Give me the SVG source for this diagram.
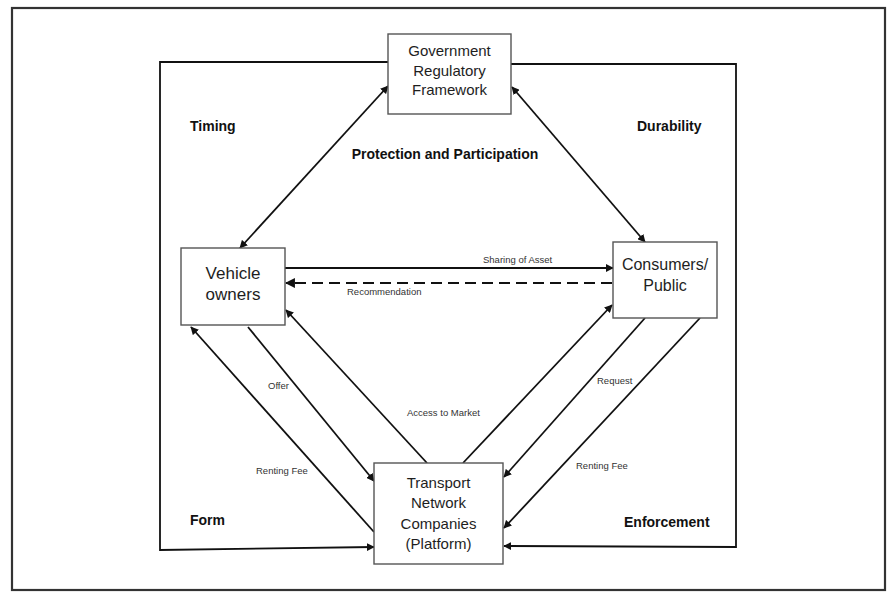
<svg xmlns="http://www.w3.org/2000/svg" width="889" height="592" viewBox="0 0 889 592">
<style>
.box{fill:#fff;stroke:#555;stroke-width:1.4}
.nt{font-family:"Liberation Sans",Arial,sans-serif;fill:#1e1e1e;text-anchor:middle}
.lbl{font-family:"Liberation Sans",Arial,sans-serif;font-size:9.5px;fill:#333}
.bl{font-family:"Liberation Sans",Arial,sans-serif;font-size:14px;font-weight:bold;fill:#111}
.ln{fill:none;stroke:#111;stroke-width:1.8}
.dash{stroke-dasharray:11 6;stroke-width:2.2}
</style>
<defs>
<marker id="ah" viewBox="0 0 10 10" refX="9" refY="5" markerWidth="4.5" markerHeight="4.5" orient="auto-start-reverse" markerUnits="strokeWidth">
<path d="M0,0 L10,5 L0,10 z" fill="#111"/>
</marker>
</defs>
<rect x="12" y="8" width="873" height="582" fill="#fff" stroke="#333" stroke-width="2.2"/>
<g id="connectors">
<path class="ln" d="M388,62 L160,62 L160,550 L374,547" marker-end="url(#ah)"/>
<path class="ln" d="M511,64 L736,64 L736,547 L504,546" marker-end="url(#ah)"/>
<line class="ln" x1="388" y1="86" x2="240" y2="248" marker-start="url(#ah)" marker-end="url(#ah)"/>
<line class="ln" x1="512" y1="87" x2="645" y2="242" marker-start="url(#ah)" marker-end="url(#ah)"/>
<line class="ln" x1="285" y1="268" x2="613" y2="268" marker-end="url(#ah)"/>
<line class="ln dash" x1="612" y1="283" x2="286" y2="283" marker-end="url(#ah)"/>
<line class="ln" x1="427" y1="463" x2="286" y2="310" marker-end="url(#ah)"/>
<line class="ln" x1="248" y1="327" x2="374" y2="481" marker-end="url(#ah)"/>
<line class="ln" x1="374" y1="532" x2="191" y2="327" marker-end="url(#ah)"/>
<line class="ln" x1="463" y1="463" x2="612" y2="305" marker-end="url(#ah)"/>
<line class="ln" x1="645" y1="318" x2="504" y2="477" marker-end="url(#ah)"/>
<line class="ln" x1="700" y1="318" x2="504" y2="528" marker-end="url(#ah)"/>
<text class="lbl" x="483" y="263">Sharing of Asset</text>
<text class="lbl" x="347" y="295">Recommendation</text>
<text class="lbl" x="268" y="389">Offer</text>
<text class="lbl" x="407" y="416">Access to Market</text>
<text class="lbl" x="256" y="474">Renting Fee</text>
<text class="lbl" x="597" y="384">Request</text>
<text class="lbl" x="576" y="469">Renting Fee</text>
</g>
<g id="gov">
<rect class="box" x="388" y="34" width="123" height="80"/>
<text class="nt" font-size="15" x="449.5" y="56">Government</text>
<text class="nt" font-size="15" x="449.5" y="76">Regulatory</text>
<text class="nt" font-size="15" x="449.5" y="95">Framework</text>
</g>
<g id="vehicle">
<rect class="box" x="181" y="248" width="104" height="77"/>
<text class="nt" font-size="17" x="233" y="279">Vehicle</text>
<text class="nt" font-size="17" x="233" y="300">owners</text>
</g>
<g id="consumers">
<rect class="box" x="613" y="242" width="104" height="76"/>
<text class="nt" font-size="16" x="665" y="270">Consumers/</text>
<text class="nt" font-size="16" x="665" y="291">Public</text>
</g>
<g id="tnc">
<rect class="box" x="374" y="463" width="129" height="101"/>
<text class="nt" font-size="15" x="438.5" y="488">Transport</text>
<text class="nt" font-size="15" x="438.5" y="508">Network</text>
<text class="nt" font-size="15" x="438.5" y="529">Companies</text>
<text class="nt" font-size="15" x="438.5" y="549">(Platform)</text>
</g>
<g id="labels">
<text class="bl" x="190" y="131">Timing</text>
<text class="bl" x="637" y="131">Durability</text>
<text class="bl" x="445" y="159" text-anchor="middle">Protection and Participation</text>
<text class="bl" x="190" y="525">Form</text>
<text class="bl" x="624" y="527">Enforcement</text>
</g>
</svg>
